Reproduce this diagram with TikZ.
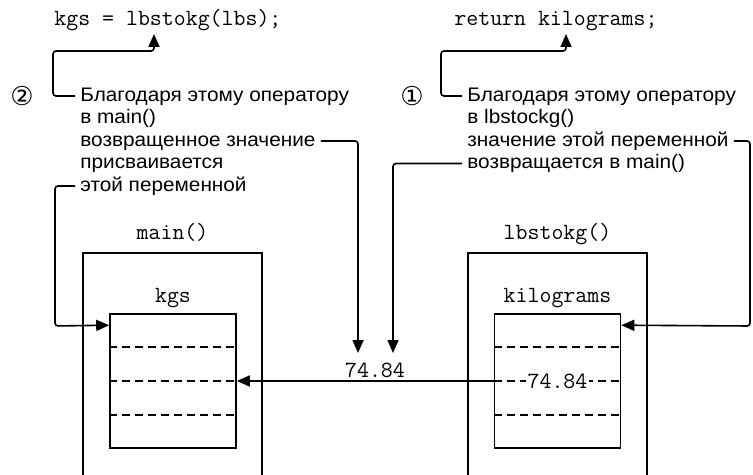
\documentclass[tikz,border=0pt]{standalone}
\usepackage{fontspec}
\setmainfont[FakeStretch=1.06]{Liberation Sans}
\newfontfamily\circfont{DejaVu Sans}
\usetikzlibrary{positioning,calc,arrows.meta}

\tikzset{
  flow/.style={-{Triangle[length=6.5pt,width=5.5pt]}, line width=0.8pt, rounded corners=1.5pt},
  frame/.style={line width=0.8pt},
  note/.style={anchor=mid west, inner xsep=2.5pt, inner ysep=1pt, font=\fontsize{9.8}{11}\selectfont},
  code/.style={font=\ttfamily\fontsize{11.6}{13}\selectfont, inner sep=1pt},
  circ/.style={font=\circfont\fontsize{13}{14}\selectfont, inner sep=0pt},
  cell/.style={draw, line width=0.8pt, minimum width=63pt, minimum height=67pt, inner sep=0pt},
  sep/.style={line width=0.8pt, dash pattern=on 4pt off 2.5pt},
}

\begin{document}
\begin{tikzpicture}[x=0.5pt, y=-0.5pt]
    \useasboundingbox (0,0) rectangle (753,475);

    % statements
    \node[code, anchor=base west] (callL) at (52,26) {kgs = lbstokg(lbs);};
    \node[code, anchor=base west] (callR) at (452,26) {return kilograms;};
    \coordinate (tipL) at (154,34);
    \coordinate (tipR) at (566,34);

    % step 2 (left)
    \node[circ] (n2) at (22,96) {②};
    \node[note] (l1) at (75,96) {Благодаря этому оператору};
    \node[note] (l2) at (75,118.5) {в main()};
    \node[note] (l3) at (75,141) {возвращенное значение};
    \node[note] (l4) at (75,163.5) {присваивается};
    \node[note] (l5) at (75,186) {этой переменной};

    % step 1 (right)
    \node[circ] (n1) at (412,96) {①};
    \node[note] (r1) at (462,96) {Благодаря этому оператору};
    \node[note] (r2) at (462,118.5) {в lbstockg()};
    \node[note] (r3) at (462,141) {значение этой переменной};
    \node[note] (r4) at (462,163.5) {возвращается в main()};

    % function frames
    \draw[frame] (83,475) |- (262,253) -- (262,475);
    \draw[frame] (468,475) |- (647,253) -- (647,475);
    \node[code, anchor=base] (fmain) at (172.5,240) {main()};
    \node[code, anchor=base] (flbs) at (557.5,240) {lbstokg()};

    % variables
    \node[cell] (kgs) at (173,381) {};
    \node[cell] (kilo) at (557.5,381) {};
    \node[code, above=1.5pt of kgs] (kgsname) {kgs};
    \node[code, above=1.5pt of kilo] (kiloname) {kilograms};
    \foreach \b in {kgs,kilo}
      \foreach \f in {0.25,0.5,0.75}
        \draw[sep] ($(\b.north west)!\f!(\b.south west)$) -- ($(\b.north east)!\f!(\b.south east)$);
    \node[code, fill=white, inner xsep=1pt] (kval) at (kilo) {74.84};

    % returned value
    \node[code] (val) at (375,370) {74.84};
    \coordinate (tipM1) at (358,353);
    \coordinate (tipM2) at (393,353);

    % connectors
    \draw[flow] (l1.mid west) -| (53,51) -| (tipL);
    \draw[flow] (l3.mid east) -| (tipM1);
    \draw[flow] (l5.mid west) -| (55,326) -- ($(kgs.north west)+(0,12)$);
    \draw[flow] (r1.mid west) -| (441,51) -| (tipR);
    \draw[flow] (r3.mid east) -| (750,326) -- ($(kilo.north east)+(0,12)$);
    \draw[flow] (r4.mid west) -| (tipM2);
    \draw[flow] (kilo.west) -- (kgs.east);
\end{tikzpicture}
\end{document}
